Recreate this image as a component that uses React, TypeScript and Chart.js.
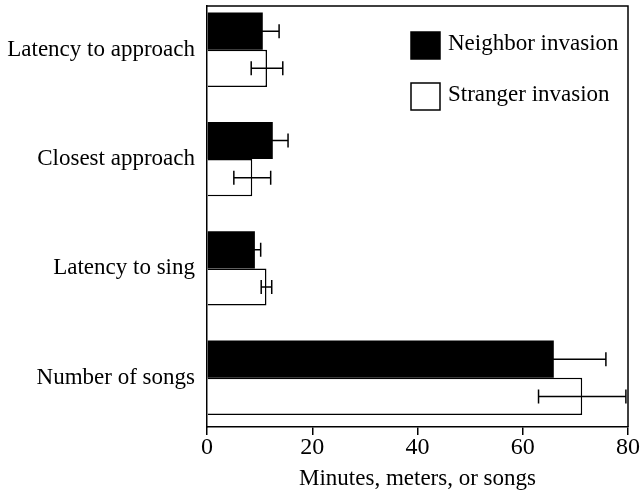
import React, { useEffect, useRef } from "react";
import { Chart, registerables } from "chart.js";

Chart.register(...registerables);

const categories = ["Latency to approach", "Closest approach", "Latency to sing", "Number of songs"];
const neighborValues = [10.6, 12.5, 9.1, 65.9];
const neighborErrors = [3.1, 2.9, 1.1, 9.9];
const strangerValues = [11.4, 8.6, 11.3, 71.3];
const strangerErrors = [3.0, 3.5, 1.0, 8.3];
const xTicks = [0, 20, 40, 60, 80];

const FONT = "'Liberation Serif', 'Times New Roman', serif";

const errorBarPlugin = {
  id: "errorBars",
  afterDatasetsDraw(chart: any) {
    const { ctx } = chart;
    const xs = chart.scales.x;
    chart.data.datasets.forEach((ds: any, di: number) => {
      const meta = chart.getDatasetMeta(di);
      meta.data.forEach((bar: any, i: number) => {
        const v = ds.data[i].x;
        const e = ds.errors[i];
        const x1 = xs.getPixelForValue(v - e);
        const x2 = xs.getPixelForValue(v + e);
        const y = bar.y;
        const cap = 7;
        ctx.save();
        ctx.strokeStyle = "#000";
        ctx.lineWidth = 1.5;
        ctx.beginPath();
        ctx.moveTo(x1, y);
        ctx.lineTo(x2, y);
        ctx.moveTo(x1, y - cap);
        ctx.lineTo(x1, y + cap);
        ctx.moveTo(x2, y - cap);
        ctx.lineTo(x2, y + cap);
        ctx.stroke();
        ctx.restore();
      });
    });
  },
};

const framePlugin = {
  id: "frame",
  afterDraw(chart: any) {
    const { ctx, chartArea } = chart;
    ctx.save();
    ctx.strokeStyle = "#000";
    ctx.lineWidth = 1.5;
    ctx.beginPath();
    ctx.moveTo(chartArea.left, chartArea.top);
    ctx.lineTo(chartArea.right, chartArea.top);
    ctx.lineTo(chartArea.right, chartArea.bottom);
    ctx.stroke();
    ctx.restore();
  },
};

const legendPlugin = {
  id: "boxLegend",
  afterDraw(chart: any) {
    const { ctx, chartArea } = chart;
    const x0 = chartArea.right - 217;
    let y = chartArea.top + 26;
    chart.data.datasets.forEach((ds: any) => {
      ctx.save();
      ctx.fillStyle = ds.backgroundColor;
      ctx.fillRect(x0, y, 29, 27);
      ctx.lineWidth = 1.5;
      ctx.strokeStyle = "#000";
      ctx.strokeRect(x0, y, 29, 27);
      ctx.fillStyle = "#000";
      ctx.font = `23px ${FONT}`;
      ctx.textBaseline = "alphabetic";
      ctx.textAlign = "left";
      ctx.fillText(ds.label, x0 + 37, y + 18);
      ctx.restore();
      y += 51;
    });
  },
};

export default function App() {
  const ref = useRef<HTMLCanvasElement>(null);
  useEffect(() => {
    document.body.style.margin = "0";
    const chart = new Chart(ref.current!, {
      type: "bar",
      data: {
        datasets: [
          {
            label: "Neighbor invasion",
            data: neighborValues.map((v, i) => ({ x: v, y: i })),
            errors: neighborErrors,
            backgroundColor: "#000",
            borderColor: "#000",
            borderWidth: 0,
            categoryPercentage: 0.68,
            barPercentage: 1,
          } as any,
          {
            label: "Stranger invasion",
            data: strangerValues.map((v, i) => ({ x: v, y: i })),
            errors: strangerErrors,
            backgroundColor: "#fff",
            borderColor: "#000",
            borderWidth: 1.5,
            categoryPercentage: 0.68,
            barPercentage: 1,
          } as any,
        ],
      },
      options: {
        indexAxis: "y",
        animation: false,
        responsive: false,
        devicePixelRatio: 1,
        layout: { padding: { top: 6, right: 15, left: 0, bottom: 0 } },
        plugins: { legend: { display: false }, tooltip: { enabled: false } },
        scales: {
          x: {
            type: "linear",
            min: 0,
            max: 80,
            afterBuildTicks: (s: any) => {
              s.ticks = xTicks.map((v) => ({ value: v }));
            },
            afterFit: (s: any) => {
              s.height = 63;
            },
            grid: {
              display: true,
              drawOnChartArea: false,
              drawTicks: true,
              tickLength: 8,
              color: "#000",
              lineWidth: 1.5,
            },
            border: { display: true, color: "#000", width: 1.5 },
            ticks: {
              color: "#000",
              font: { family: FONT, size: 24 },
              padding: -2,
              maxRotation: 0,
            },
            title: {
              display: true,
              text: "Minutes, meters, or songs",
              color: "#000",
              font: { family: FONT, size: 23 },
              padding: { top: 0, bottom: -3 },
            },
          },
          y: {
            type: "linear",
            reverse: true,
            offset: false,
            min: -0.4,
            max: 3.45,
            afterBuildTicks: (s: any) => {
              s.ticks = categories.map((_, i) => ({ value: i }));
            },
            afterFit: (s: any) => {
              s.width = 207;
              s.paddingTop = 0;
              s.paddingBottom = 0;
            },
            grid: { display: false, drawTicks: false, offset: false },
            border: { display: true, color: "#000", width: 1.5 },
            ticks: {
              color: "#000",
              font: { family: FONT, size: 23 },
              padding: 12,
              callback: (v: any) => categories[v as number] ?? "",
            },
          },
        },
      },
      plugins: [framePlugin, errorBarPlugin, legendPlugin],
    });
    return () => chart.destroy();
  }, []);
  return (
    <div style={{ width: 643, height: 490 }}>
      <canvas ref={ref} width={643} height={490} />
    </div>
  );
}
